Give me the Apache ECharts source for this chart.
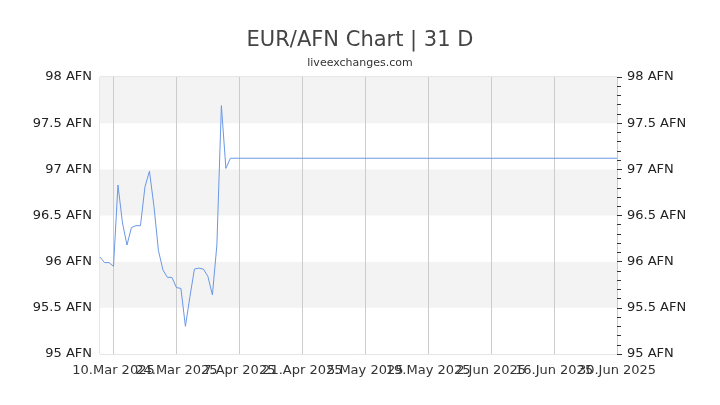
<!DOCTYPE html>
<html>
<head>
<meta charset="utf-8">
<script src="https://cdn.jsdelivr.net/npm/echarts@6/dist/echarts.min.js"></script>
<style>
  html, body { margin: 0; padding: 0; background: #fff; }
  #chart { width: 720px; height: 405px; }
</style>
</head>
<body>
<div id="chart"></div>
<script>
// axis range (one category per day)
var startDay = '2025-03-07';
var endDay = '2025-06-30';

// rate readings
var pointDates = [
    '2025-03-07', '2025-03-08', '2025-03-09', '2025-03-10', '2025-03-11',
    '2025-03-12', '2025-03-13', '2025-03-14', '2025-03-15', '2025-03-16',
    '2025-03-17', '2025-03-18', '2025-03-19', '2025-03-20', '2025-03-21',
    '2025-03-22', '2025-03-23', '2025-03-24', '2025-03-25', '2025-03-26',
    '2025-03-27', '2025-03-28', '2025-03-29', '2025-03-30', '2025-03-31',
    '2025-04-01', '2025-04-02', '2025-04-03', '2025-04-04', '2025-04-05',
    '2025-06-30'
];
var rates = [
    96.05, 95.99, 95.99, 95.95, 96.83,
    96.42, 96.18, 96.37, 96.39, 96.39,
    96.81, 96.98, 96.60, 96.12, 95.91,
    95.83, 95.83, 95.72, 95.71, 95.30,
    95.62, 95.92, 95.93, 95.92, 95.84,
    95.64, 96.18, 97.69, 97.01, 97.12,
    97.12
];

var yMin = 95, yMax = 98, yStep = 0.5;
var labelEvery = 14, labelOffset = 3; // 10.Mar is the 4th day

var months = ['Jan', 'Feb', 'Mar', 'Apr', 'May', 'Jun', 'Jul', 'Aug', 'Sep', 'Oct', 'Nov', 'Dec'];

function buildDays(a, b) {
    var out = [];
    var t = Date.parse(a + 'T00:00:00Z');
    var end = Date.parse(b + 'T00:00:00Z');
    while (t <= end) {
        out.push(new Date(t).toISOString().slice(0, 10));
        t += 86400000;
    }
    return out;
}

function fmtDay(s) {
    var p = s.split('-');
    return parseInt(p[2], 10) + '.' + months[parseInt(p[1], 10) - 1] + ' ' + p[0];
}

var days = buildDays(startDay, endDay);

var seriesData = [];
for (var i = 0; i < pointDates.length; i++) {
    seriesData.push([pointDates[i], rates[i]]);
}

function showIdx(idx) {
    return (idx - labelOffset) % labelEvery === 0;
}
// labels overlap in the original, so split them over two stacked axes
// (echarts would otherwise drop the overlapping ones)
function evenIdx(idx) {
    return (idx - labelOffset) % (labelEvery * 2) === 0;
}
function oddIdx(idx) {
    return (idx - labelOffset - labelEvery) % (labelEvery * 2) === 0;
}

var font = 'DejaVu Sans';

function xAxisOf(pick, grid) {
    return {
        type: 'category',
        data: days,
        position: 'bottom',
        boundaryGap: false,
        axisLine: { show: false },
        axisTick: { show: false },
        axisLabel: {
            interval: function (idx) { return pick(idx); },
            formatter: function (v) { return fmtDay(v); },
            fontFamily: font, fontSize: 13, color: '#333', margin: 10,
            hideOverlap: false,
            showMinLabel: true,
            showMaxLabel: true
        },
        splitLine: {
            show: grid,
            interval: function (idx) { return showIdx(idx); },
            lineStyle: { color: '#ccc', width: 1 }
        }
    };
}

var chart = echarts.init(document.getElementById('chart'));
chart.setOption({
    animation: false,
    title: {
        text: 'EUR/AFN Chart | 31 D',
        subtext: 'liveexchanges.com',
        left: 'center',
        top: 25,
        itemGap: 7,
        textStyle: { fontFamily: font, fontSize: 21, fontWeight: 'normal', color: '#444' },
        subtextStyle: { fontFamily: font, fontSize: 11, color: '#333' }
    },
    grid: {
        left: 100, right: 103, top: 77, bottom: 51,
        show: true, borderColor: '#ccc', borderWidth: 1, backgroundColor: 'transparent'
    },
    xAxis: [xAxisOf(evenIdx, true), xAxisOf(oddIdx, false)],
    yAxis: [{
        type: 'value',
        min: yMin, max: yMax, interval: yStep,
        position: 'left',
        axisLine: { show: false },
        axisTick: { show: false },
        splitLine: { show: false },
        splitArea: { show: true, areaStyle: { color: ['#ffffff', '#f3f3f3'] } },
        axisLabel: {
            formatter: function (v) { return v + ' AFN'; },
            fontFamily: font, fontSize: 13, color: '#222', margin: 8
        }
    }, {
        type: 'value',
        min: yMin, max: yMax, interval: yStep,
        position: 'right',
        axisLine: { show: false },
        axisTick: { show: true, length: 5, lineStyle: { color: '#333' } },
        minorTick: { show: true, splitNumber: 5, length: 4, lineStyle: { color: '#333' } },
        splitLine: { show: false },
        axisLabel: {
            formatter: function (v) { return v + ' AFN'; },
            fontFamily: font, fontSize: 13, color: '#222', margin: 10
        }
    }],
    series: [{
        type: 'line',
        xAxisIndex: 0,
        data: seriesData,
        showSymbol: false,
        symbol: 'none',
        lineStyle: { color: '#6b98e6', width: 1 },
        itemStyle: { color: '#6b98e6' }
    }]
});
</script>
</body>
</html>
